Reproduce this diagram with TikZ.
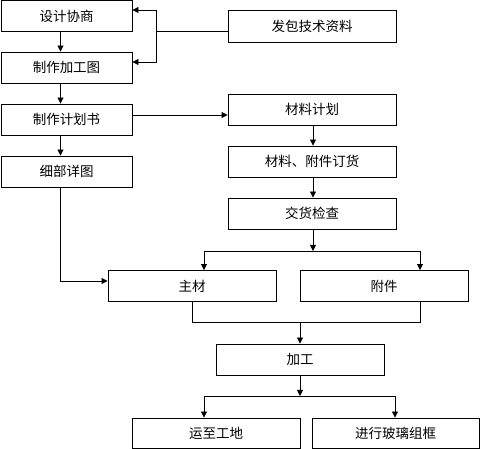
\documentclass[tikz,border=0pt]{standalone}
\usepackage{fontspec}
\setmainfont{Noto Sans CJK SC}
\usetikzlibrary{arrows.meta}
\begin{document}
\begin{tikzpicture}[x=1pt,y=-1pt,
  box/.style={draw=black,line width=0.9pt,rectangle,inner sep=0pt,minimum height=31pt,font=\fontsize{13.5}{15}\selectfont},
  lbox/.style={box,minimum width=131pt},
  rbox/.style={box,minimum width=168pt},
  conn/.style={draw=black,line width=0.9pt},
  arr/.style={conn,-{Triangle[length=6pt,width=6pt]}}]
\useasboundingbox (0,0) rectangle (480,449);
% left column
\node[lbox] (b1) at (66.5,16) {设计协商};
\node[lbox] (b2) at (66.5,67.5) {制作加工图};
\node[lbox] (b3) at (66.5,119.5) {制作计划书};
\node[lbox] (b4) at (66.5,171.5) {细部详图};
% right column
\node[rbox,minimum height=32pt] (r1) at (312,26) {发包技术资料};
\node[rbox] (r2) at (312,109.5) {材料计划};
\node[rbox] (r3) at (312,161.5) {材料、附件订货};
\node[rbox] (r4) at (312,213.5) {交货检查};
% middle
\node[rbox] (m1) at (192,286) {主材};
\node[rbox] (m2) at (384,286) {附件};
\node[rbox] (p) at (300,359.5) {加工};
\node[rbox,minimum height=30pt] (o1) at (216,433) {运至工地};
\node[rbox,minimum height=30pt,minimum width=167pt] (o2) at (395.5,433) {进行玻璃组框};
% coordinates
\coordinate (j1) at (156,31);
\coordinate (j1t) at (156,10);
\coordinate (j1b) at (156,62);
\coordinate (j2) at (313,251);
\coordinate (j2l) at (204,251);
\coordinate (j2r) at (420,251);
\coordinate (j3) at (300,322);
\coordinate (j3l) at (192,322);
\coordinate (j3r) at (420,322);
\coordinate (j4) at (300,396);
\coordinate (j4l) at (204,396);
\coordinate (j4r) at (395,396);
\coordinate (k4) at ([xshift=-6pt]b4.south |- 0,281);
% connectors
\draw[arr] ([xshift=-6pt]b1.south) -- ([xshift=-6pt]b2.north);
\draw[arr] ([xshift=-6pt]b2.south) -- ([xshift=-6pt]b3.north);
\draw[arr] ([xshift=-6pt]b3.south) -- ([xshift=-6pt]b4.north);
\draw[conn] (r1.west |- j1) -- (j1);
\draw[arr] (j1) -- (j1t) -- (b1.east |- j1t);
\draw[arr] (j1) -- (j1b) -- (b2.east |- j1b);
\draw[arr] (b3.east |- 0,115) -- (r2.west |- 0,115);
\draw[arr] (r2.south -| j2) -- (r3.north -| j2);
\draw[arr] (r3.south -| j2) -- (r4.north -| j2);
\draw[arr] (r4.south -| j2) -- (j2);
\draw[conn] (j2l) -- (j2r);
\draw[arr] (j2l) -- (m1.north -| j2l);
\draw[arr] (j2r) -- (m2.north -| j2r);
\draw[arr] ([xshift=-6pt]b4.south) -- (k4) -- (m1.west |- k4);
\draw[conn] (m1.south) -- (j3l) -- (j3r) -- (m2.south -| j3r);
\draw[arr] (j3) -- (p.north);
\draw[arr] (p.south) -- (j4);
\draw[conn] (j4l) -- (j4r);
\draw[arr] (j4l) -- (o1.north -| j4l);
\draw[arr] (j4r) -- (o2.north -| j4r);
\end{tikzpicture}
\end{document}
